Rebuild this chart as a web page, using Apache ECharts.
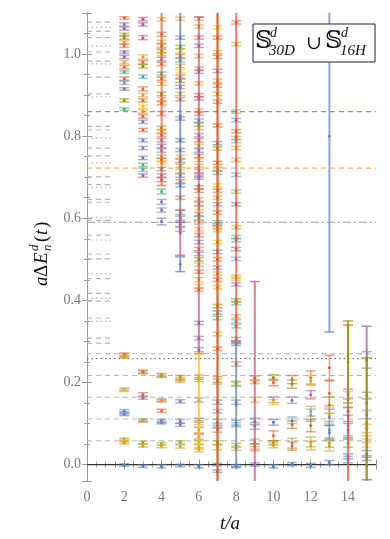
<!DOCTYPE html>
<html>
<head>
<meta charset="utf-8">
<script src="https://cdn.jsdelivr.net/npm/echarts@6/dist/echarts.min.js"></script>
<style>
  html, body { margin: 0; padding: 0; background: #fff; }
  #main { width: 390px; height: 539px; }
</style>
</head>
<body>
<div id="main"></div>
<script>
// colour index -> mathematica style palette
var palette = ['#5e81b5', '#e19c24', '#8fb032', '#eb6235', '#8778b3', '#c56e1a', '#5d9ec7', '#ffbf00',
  '#a5609d', '#929600', '#e95536', '#6685d9', '#f89f13', '#bc5b80', '#47b66d'];

// effective energies per time slice: [value, error, colour]
var pts2 = [[1.088,.003,3],[1.072,.004,4],[1.062,.004,8],[1.048,.003,2],[1.040,.004,5],[1.028,.004,1],[1.020,.004,3],[1.005,.003,4],[0.993,.004,8],[0.980,.004,1],[0.968,.004,3],[0.956,.003,14],[0.940,.004,3],[0.930,.004,6],[0.915,.003,4],[0.887,.004,9],[0.866,.003,14],
  [0.268,.004,3],[0.265,.004,2],[0.262,.003,1],[0.183,.003,4],[0.181,.003,7],[0.130,.004,0],[0.125,.004,4],[0.122,.003,6],[0.062,.003,2],[0.057,.004,7],[0.053,.003,1],[-0.001,.003,0]];
var pts3 = [[1.085,.004,13],[1.072,.004,8],[1.040,.005,13],[0.993,.005,1],[0.980,.004,3],[0.970,.004,9],[0.945,.004,6],[0.915,.005,3],[0.900,.004,1],[0.887,.004,3],[0.872,.004,7],[0.860,.004,1],[0.848,.004,3],[0.835,.004,4],[0.815,.004,3],[0.790,.004,11],[0.771,.004,4],[0.747,.004,4],[0.730,.004,14],[0.718,.004,6],[0.704,.004,8],
  [0.227,.003,2],[0.225,.004,3],[0.170,.005,3],[0.163,.004,4],[0.108,.003,0],[0.106,.003,1],[0.054,.003,2],[0.046,.004,1],[-0.004,.003,0]];
var pts4 = [[1.084,.004,1],[1.048,.005,3],[1.030,.004,1],[1.020,.005,3],[1.007,.004,9],[1.000,.004,12],[0.988,.004,4],[0.976,.004,3],[0.952,.004,14],[0.940,.004,3],[0.928,.004,12],[0.903,.004,9],[0.890,.004,1],[0.880,.004,3],[0.855,.005,3],[0.820,.004,9],[0.812,.004,1],[0.802,.004,3],[0.790,.004,4],[0.776,.004,8],[0.765,.004,11],[0.750,.004,1],[0.742,.004,3],[0.735,.004,7],[0.720,.004,4],[0.704,.004,13],[0.694,.005,8],[0.665,.006,14],[0.640,.006,4],[0.620,.005,4],[0.592,.008,0],
  [0.218,.004,3],[0.215,.003,2],[0.157,.003,4],[0.155,.003,1],[0.131,.004,3],[0.106,.004,0],[0.102,.003,4],[0.051,.003,2],[0.045,.004,1],[-0.004,.004,0]];
var pts5 = [[1.086,.004,1],[1.040,.004,0],[1.017,.004,9],[1.007,.004,7],[0.995,.004,3],[0.985,.004,14],[0.971,.004,1],[0.958,.004,7],[0.945,.004,3],[0.935,.004,9],[0.920,.004,4],[0.903,.004,1],[0.890,.004,3],[0.843,.004,0],[0.790,.004,0],[0.766,.004,4],[0.750,.004,12],[0.740,.004,3],[0.728,.004,1],[0.715,.004,12],[0.704,.004,4],[0.690,.004,3],[0.680,.004,0],[0.650,.004,3],[0.614,.005,14],[0.600,.005,4],[0.585,.005,13],[0.573,.005,4],
  [0.212,.005,3],[0.208,.004,2],[0.204,.004,1],[0.154,.004,4],[0.105,.005,0],[0.097,.004,4],[0.054,.004,2],[0.044,.004,1],[-0.002,.003,0]];
var pts6 = [[1.086,.004,1],[1.067,.004,12],[1.040,.004,3],[1.020,.004,8],[0.995,.004,1],[0.964,.004,3],[0.957,.004,4],[0.928,.004,12],[0.900,.004,3],[0.892,.004,13],[0.863,.004,1],[0.855,.004,3],[0.838,.004,4],[0.828,.004,14],[0.820,.004,12],[0.802,.004,4],[0.790,.004,3],[0.776,.004,1],[0.765,.004,0],[0.752,.004,3],[0.742,.004,12],[0.728,.004,1],[0.715,.004,3],[0.704,.004,4],[0.699,.004,4],[0.675,.004,3],[0.667,.004,5],[0.646,.004,1],[0.635,.004,4],[0.625,.004,12],[0.610,.004,3],[0.600,.004,14],[0.590,.004,1],[0.573,.004,12],[0.559,.004,3],[0.542,.004,4],[0.525,.004,3],[0.513,.004,4],[0.500,.004,9],[0.487,.004,12],[0.470,.004,3],[0.450,.005,12],[0.434,.005,7],[0.426,.004,3],[0.345,.004,0],[0.308,.004,4],[0.280,.005,0],
  [0.213,.005,3],[0.207,.005,2],[0.157,.005,4],[0.108,.005,0],[0.102,.005,1],[0.084,.007,3],[0.068,.006,3],[0.054,.004,2],[0.043,.005,1],[0.036,.005,12],[-0.004,.004,0]];
var pts7 = [[1.065,.004,7],[1.040,.004,3],[1.005,.004,1],[0.993,.004,3],[0.959,.004,4],[0.935,.004,1],[0.923,.004,3],[0.903,.004,1],[0.884,.004,3],[0.826,.004,3],[0.783,.004,0],[0.770,.004,9],[0.735,.004,3],[0.720,.004,1],[0.711,.004,0],[0.680,.004,7],[0.667,.004,3],[0.650,.004,1],[0.634,.004,4],[0.614,.004,3],[0.590,.004,0],[0.585,.004,14],[0.578,.004,1],[0.571,.004,12],[0.542,.004,7],[0.518,.004,0],[0.500,.004,3],[0.480,.004,4],[0.465,.004,1],[0.450,.004,3],[0.432,.004,12],[0.386,.004,9],[0.370,.004,0],[0.357,.004,14],[0.318,.004,1],[0.282,.004,3],
  [0.207,.007,3],[0.202,.006,2],[0.152,.005,4],[0.130,.004,4],[0.103,.007,0],[0.095,.006,6],[0.085,.006,3],[0.054,.004,2],[0.042,.006,1],[0.000,.003,0],[-0.016,.003,4]];
var pts8 = [[1.077,.004,3],[1.024,.004,1],[0.860,.004,2],[0.839,.004,4],[0.812,.004,3],[0.795,.004,1],[0.788,.004,6],[0.771,.004,12],[0.742,.004,1],[0.706,.004,6],[0.665,.004,2],[0.634,.004,8],[0.578,.004,1],[0.554,.004,14],[0.547,.004,6],[0.525,.004,13],[0.501,.004,6],[0.458,.004,1],[0.453,.004,7],[0.439,.004,4],[0.400,.004,9],[0.393,.004,14],[0.361,.004,1],[0.349,.004,6],[0.337,.004,14],[0.306,.004,0],
  [0.294,.004,0],[0.245,.005,3],[0.198,.005,1],[0.196,.005,2],[0.152,.005,4],[0.102,.006,0],[0.097,.005,6],[0.047,.005,2],[0.040,.005,1],[-0.004,.004,0]];
var pts9 = [[0.210,.006,3],[0.202,.005,1],[0.158,.006,12],[0.105,.008,0],[0.094,.008,4],[0.056,.006,2],[0.044,.007,3],[0.038,.005,1],[0.000,.004,0]];
var pts10 = [[0.212,.007,9],[0.200,.008,3],[0.158,.007,4],[0.152,.006,7],[0.103,.007,0],[0.070,.012,3],[0.053,.005,9],[0.047,.006,1],[-0.004,.004,0]];
var pts11 = [[0.207,.010,3],[0.196,.010,9],[0.157,.008,4],[0.108,.008,6],[0.097,.009,5],[0.052,.012,2],[0.045,.010,3],[0.001,.004,0]];
var pts12 = [[0.212,.016,3],[0.205,.012,12],[0.170,.010,13],[0.130,.012,1],[0.120,.015,6],[0.095,.015,5],[0.055,.012,2],[0.046,.010,1],[-0.002,.005,0]];
var pts13 = [[0.236,.030,10],[0.174,.030,3],[0.145,.020,9],[0.120,.020,7],[0.115,.020,4],[0.085,.020,6],[0.078,.018,0],[0.052,.010,2],[0.045,.012,1],[0.005,.005,0]];
var pts14 = [[0.172,.012,4],[0.158,.020,12],[0.120,.020,0],[0.095,.025,6],[0.085,.020,13],[0.052,.010,9],[0.020,.006,0],[0.012,.008,11]];
var pts15 = [[0.255,.020,8],[0.168,.008,9],[0.122,.010,6],[0.088,.010,12],[0.062,.008,1],[0.052,.010,7],[0.026,.008,0],[0.016,.006,11]];

// very noisy slices: [t, value, error, colour]
var wideBars = [[4,0.90,0.22,3],[5,0.85,0.26,0],[5,0.565,0.055,13],[5,0.488,0.018,0],[6,0.68,0.41,13],[6,0.16,0.11,7],
  [7,0.52,0.75,10],[7,0.52,0.75,5],[8,0.80,0.50,10],[8,0.145,0.15,0],[9,0.20,0.246,13],[13,0.80,0.477,11],
  [14,0.13,0.21,10],[14,0.25,0.10,9],[15,0.15,0.187,8],[15,0.10,0.16,9]];

// reference levels
var bandLines = [0.058, 0.111, 0.164, 0.217, 0.270];
var dottedLine = 0.258;
var dashDotLine = 0.590;
var orangeLine = 0.722;
var purpleLine = 0.860;
var shortLines = [1.078, 1.065, 1.055, 1.040, 1.020, 1.005, 0.983, 0.976, 0.944, 0.903, 0.896, 0.824, 0.815, 0.795, 0.771, 0.752,
  0.735, 0.701, 0.682, 0.675, 0.646, 0.639, 0.602, 0.595, 0.559, 0.547, 0.513, 0.501, 0.465, 0.453, 0.417, 0.405, 0.398,
  0.357, 0.349, 0.308, 0.296];

var slices = { 2: pts2, 3: pts3, 4: pts4, 5: pts5, 6: pts6, 7: pts7, 8: pts8, 9: pts9, 10: pts10, 11: pts11, 12: pts12, 13: pts13, 14: pts14, 15: pts15 };
var barData = [];
Object.keys(slices).forEach(function (t) {
  slices[t].forEach(function (p) { barData.push([+t, p[0], p[1], p[2]]); });
});

var X_MAX = 15.5;
// [x0, x1, y, kind]
var lineData = [];
shortLines.forEach(function (v, i) { lineData.push([0, 1.45, v, i % 3 === 1 ? 6 : 0]); });
bandLines.forEach(function (v) { lineData.push([0, X_MAX, v, 0]); });
lineData.push([0, X_MAX, dottedLine, 1]);
lineData.push([0, X_MAX, dashDotLine, 2]);
lineData.push([0, X_MAX, orangeLine, 3]);
lineData.push([0, X_MAX, purpleLine, 4]);
lineData.push([0, X_MAX, 0, 5]);

var lineKinds = [
  { stroke: '#b5b5b5', lineWidth: 1.2, lineDash: [5, 4] },
  { stroke: '#555', lineWidth: 1, lineDash: [1.5, 3] },
  { stroke: '#b5b5b5', lineWidth: 1.2, lineDash: [8, 3, 2, 3] },
  { stroke: '#f5b545', lineWidth: 1.2, lineDash: [5, 4] },
  { stroke: '#a07ce6', lineWidth: 1.2, lineDash: [5, 4] },
  { stroke: '#333', lineWidth: 1.2, lineDash: null },
  { stroke: '#b5b5b5', lineWidth: 1.2, lineDash: [1.5, 3] }
];

function renderLine(params, api) {
  var a = api.coord([api.value(0), api.value(2)]);
  var b = api.coord([api.value(1), api.value(2)]);
  var k = lineKinds[api.value(3)];
  return { type: 'line', shape: { x1: a[0], y1: a[1], x2: b[0], y2: b[1] },
    style: { stroke: k.stroke, lineWidth: k.lineWidth, lineDash: k.lineDash } };
}

function makeBarRenderer(width, opacity) {
  return function (params, api) {
    var cs = params.coordSys;
    var t = api.value(0), v = api.value(1), e = api.value(2);
    var col = palette[api.value(3)];
    var top = api.coord([t, v + e]), bot = api.coord([t, v - e]), mid = api.coord([t, v]);
    var y0 = Math.max(top[1], cs.y), y1 = Math.min(bot[1], cs.y + cs.height);
    var x = mid[0], hw = 5;
    var ch = [{ type: 'line', shape: { x1: x, y1: y0, x2: x, y2: y1 }, style: { stroke: col, lineWidth: width, opacity: opacity } }];
    if (top[1] >= cs.y) ch.push({ type: 'line', shape: { x1: x - hw, y1: top[1], x2: x + hw, y2: top[1] }, style: { stroke: col, lineWidth: 1.5, opacity: opacity } });
    if (bot[1] <= cs.y + cs.height) ch.push({ type: 'line', shape: { x1: x - hw, y1: bot[1], x2: x + hw, y2: bot[1] }, style: { stroke: col, lineWidth: 1.5, opacity: opacity } });
    if (mid[1] >= cs.y && mid[1] <= cs.y + cs.height) ch.push({ type: 'circle', shape: { cx: x, cy: mid[1], r: 1.5 }, style: { fill: col } });
    return { type: 'group', children: ch };
  };
}

var serif = '"Liberation Serif", "DejaVu Serif", serif';
var tickLabel = { color: '#777', fontFamily: serif, fontSize: 14 };
function axisBase(extra) {
  var base = {
    type: 'value',
    axisLine: { show: true, lineStyle: { color: '#999', width: 1 } },
    axisTick: { show: true, inside: true, length: 5, lineStyle: { color: '#999' } },
    minorTick: { show: true, length: 3, lineStyle: { color: '#999' } },
    splitLine: { show: false }
  };
  return Object.assign(base, extra);
}

var Y_MIN = -0.04, Y_MAX = 1.1;
var myChart = echarts.init(document.getElementById('main'));
myChart.setOption({
  backgroundColor: '#fff',
  animation: false,
  grid: { left: 87, right: 14, top: 13, bottom: 58 },
  xAxis: [
    axisBase({ min: 0, max: X_MAX, interval: 2, position: 'bottom', minorTick: { show: true, splitNumber: 4, length: 3, lineStyle: { color: '#999' } },
      axisLabel: Object.assign({ margin: 9, showMaxLabel: false }, tickLabel) }),
    axisBase({ min: 0, max: X_MAX, interval: 2, position: 'top', minorTick: { show: true, splitNumber: 4, length: 3, lineStyle: { color: '#999' } },
      axisLabel: { show: false } })
  ],
  yAxis: [
    axisBase({ min: Y_MIN, max: Y_MAX, splitNumber: 6, position: 'left', minorTick: { show: true, splitNumber: 4, length: 3, lineStyle: { color: '#999' } },
      axisLabel: Object.assign({ margin: 6, showMinLabel: false, showMaxLabel: false, formatter: function (v) { return v.toFixed(1); } }, tickLabel) }),
    axisBase({ min: Y_MIN, max: Y_MAX, splitNumber: 6, position: 'right', minorTick: { show: true, splitNumber: 4, length: 3, lineStyle: { color: '#999' } },
      axisLabel: { show: false } })
  ],
  series: [
    { type: 'custom', renderItem: renderLine, data: lineData, z: 1, silent: true, encode: { x: [0, 1], y: 2 } },
    { type: 'custom', renderItem: makeBarRenderer(1.5, 0.6), data: barData, z: 2, silent: true, encode: { x: 0, y: 1 } },
    { type: 'custom', renderItem: makeBarRenderer(2, 0.75), data: wideBars, z: 3, silent: true, encode: { x: 0, y: 1 } }
  ],
  graphic: [
    // x axis title
    { type: 'text', x: 230, y: 524, style: { text: 't/a', font: 'italic 19px ' + serif, fill: '#111', align: 'center', verticalAlign: 'middle' } },
    // y axis title, read bottom to top
    { type: 'group', x: 42, y: 250, rotation: Math.PI / 2, children: [
      { type: 'text', x: -36, y: 0, style: { text: 'a', font: 'italic 19px ' + serif, fill: '#111', verticalAlign: 'middle' } },
      { type: 'text', x: -27, y: 0, style: { text: 'Δ', font: '19px ' + serif, fill: '#111', verticalAlign: 'middle' } },
      { type: 'text', x: -14, y: 0, style: { text: 'E', font: 'italic 19px ' + serif, fill: '#111', verticalAlign: 'middle' } },
      { type: 'text', x: -1, y: -7, style: { text: 'd', font: 'italic 13px ' + serif, fill: '#111', verticalAlign: 'middle' } },
      { type: 'text', x: -1, y: 6, style: { text: 'n', font: 'italic 13px ' + serif, fill: '#111', verticalAlign: 'middle' } },
      { type: 'text', x: 8, y: 0, style: { text: '(', font: '19px ' + serif, fill: '#111', verticalAlign: 'middle' } },
      { type: 'text', x: 15, y: 0, style: { text: 't', font: 'italic 19px ' + serif, fill: '#111', verticalAlign: 'middle' } },
      { type: 'text', x: 22, y: 0, style: { text: ')', font: '19px ' + serif, fill: '#111', verticalAlign: 'middle' } }
    ] },
    // ensemble legend box
    { type: 'rect', z: 100, shape: { x: 253, y: 24, width: 122, height: 38 }, style: { fill: '#fff', stroke: '#222', lineWidth: 1 } },
    { type: 'text', z: 101, x: 255, y: 42, style: { text: '𝕊', font: '24px "DejaVu Serif", "DejaVu Sans"', fill: '#111', verticalAlign: 'middle' } },
    { type: 'text', z: 101, x: 270, y: 33, style: { text: 'd', font: 'italic 14px ' + serif, fill: '#111', verticalAlign: 'middle' } },
    { type: 'text', z: 101, x: 269, y: 51, style: { text: '30D', font: 'italic 15px ' + serif, fill: '#111', verticalAlign: 'middle' } },
    { type: 'text', z: 101, x: 306, y: 44, style: { text: '∪', font: '19px ' + serif, fill: '#111', verticalAlign: 'middle' } },
    { type: 'text', z: 101, x: 325, y: 42, style: { text: '𝕊', font: '24px "DejaVu Serif", "DejaVu Sans"', fill: '#111', verticalAlign: 'middle' } },
    { type: 'text', z: 101, x: 341, y: 33, style: { text: 'd', font: 'italic 14px ' + serif, fill: '#111', verticalAlign: 'middle' } },
    { type: 'text', z: 101, x: 340, y: 51, style: { text: '16H', font: 'italic 15px ' + serif, fill: '#111', verticalAlign: 'middle' } }
  ]
});
</script>
</body>
</html>
